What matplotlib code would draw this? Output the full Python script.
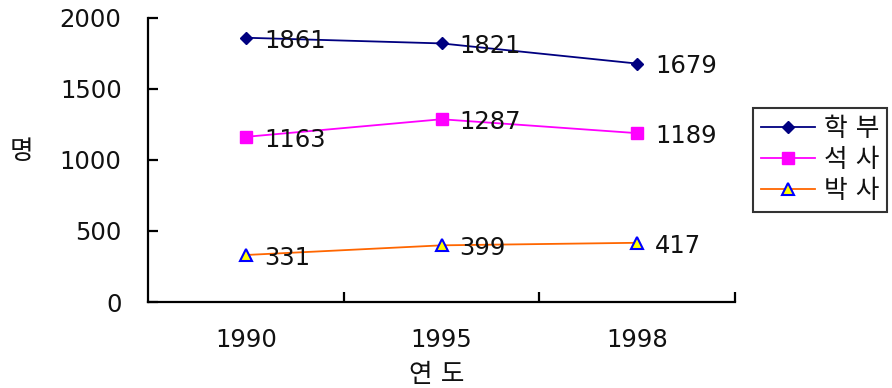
import matplotlib.pyplot as plt
import numpy as np

plt.rcParams['font.family'] = ['DejaVu Sans', 'Noto Sans CJK KR']

years = ['1990', '1995', '1998']
undergrad = [1861, 1821, 1679]
master = [1163, 1287, 1189]
doctor = [331, 399, 417]
series_names = ['학 부', '석 사', '박 사']

fs = 17.5
kfs = 18.5
fig = plt.figure(figsize=(8.92, 3.88), dpi=100)
ax = fig.add_axes([148 / 892, 86 / 388, 587 / 892, 284 / 388])

x = np.arange(1, len(years) + 1)
l1, = ax.plot(x, undergrad, color='#000080', lw=1.3, marker='D', ms=6.5,
              mfc='#000080', mec='#000080')
l2, = ax.plot(x, master, color='#FF00FF', lw=1.3, marker='s', ms=8,
              mfc='#FF00FF', mec='#FF00FF')
l3, = ax.plot(x, doctor, color='#FF6600', lw=1.3, marker='^', ms=8,
              mfc='#FFFF00', mec='#0000FF', mew=1.5)

for vals in (undergrad, master, doctor):
    for xi, v in zip(x, vals):
        ax.annotate(str(v), (xi, v), xytext=(13, -2), textcoords='offset points',
                    ha='left', va='center', fontsize=fs, color='#111111')

ax.set_xlim(0.5, 3.5)
ax.set_ylim(0, 2000)
ax.set_yticks([0, 500, 1000, 1500, 2000])
ax.set_xticks(x)
ax.set_xticklabels(years)
ax.set_xticks([1.5, 2.5, 3.5], minor=True)

for side in ('top', 'right'):
    ax.spines[side].set_visible(False)
for side in ('left', 'bottom'):
    ax.spines[side].set_linewidth(1.6)

ax.tick_params(axis='y', direction='in', length=7, width=1.6, pad=19,
               labelsize=fs, labelcolor='#111111')
ax.tick_params(axis='x', which='major', length=0, pad=19,
               labelsize=fs, labelcolor='#111111')
ax.tick_params(axis='x', which='minor', direction='in', length=7, width=1.6)

fig.text(21 / 892, 1 - 152 / 388, '명', fontsize=kfs, ha='center',
         va='center', color='#111111')
fig.text(437 / 892, 1 - 375 / 388, '연 도', fontsize=kfs, ha='center',
         va='center', color='#111111')

leg = fig.legend([l1, l2, l3], series_names, loc='upper left',
                 bbox_to_anchor=(753 / 892, 1 - 108 / 388),
                 frameon=True, fancybox=False,
                 handlelength=2.1, handletextpad=0.35, labelspacing=0.2,
                 borderpad=0.3, borderaxespad=0,
                 prop={'family': ['DejaVu Sans', 'Noto Sans CJK KR'], 'size': kfs})
leg.get_frame().set_edgecolor('black')
leg.get_frame().set_linewidth(1.5)
for t in leg.get_texts():
    t.set_color('#111111')

fig.savefig('out.png', dpi=100)
